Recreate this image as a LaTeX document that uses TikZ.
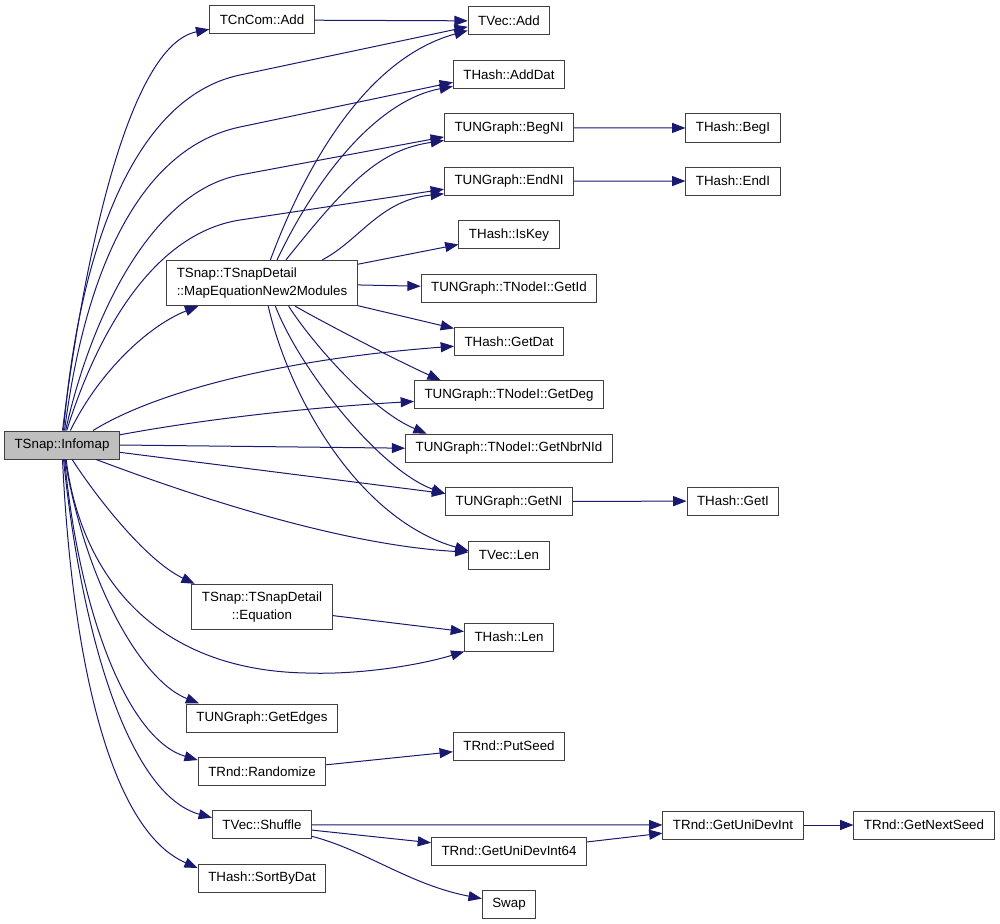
\documentclass[tikz,border=0pt]{standalone}
\usepackage{fontspec}
\setmainfont{Liberation Sans}
\usetikzlibrary{arrows.meta,positioning}
\definecolor{callBlue}{HTML}{191970}
\definecolor{rootGray}{HTML}{BFBFBF}
\definecolor{edgeGray}{HTML}{404040}
\tikzset{
  call/.style={-{Triangle[length=10pt,width=7.5pt]}, line width=0.75pt,
    draw=callBlue},
  func box/.style={draw=edgeGray, fill=white, line width=0.75pt,
    minimum height=21pt, inner xsep=7.5pt, inner ysep=2pt,
    font=\fontsize{10}{13.5}\selectfont},
  root box/.style={func box, fill=rootGray},
  long box/.style={func box, minimum height=34pt}
}
\begin{document}
\begin{tikzpicture}[x=0.75pt, y=-0.75pt, node distance=18.3pt]
  \useasboundingbox (0,0) rectangle (1000,924);
  % caller and its direct callees
  \node[root box] (infomap) at (62,445) {TSnap::Infomap};
  \node[func box] (cncomadd) at (262,20) {TCnCom::Add};
  \node[long box, align=left] (mapeq) at (262,283)
    {TSnap::TSnapDetail\\::MapEquationNew2Modules};
  \node[long box, align=center] (equation) at (262,607)
    {TSnap::TSnapDetail\\::Equation};
  \node[func box] (getedges) at (262,718) {TUNGraph::GetEdges};
  \node[func box, below=of getedges] (randomize) {TRnd::Randomize};
  \node[func box, below=of randomize] (shuffle) {TVec::Shuffle};
  \node[func box, below=of shuffle] (sortbydat) {THash::SortByDat};
  % second column
  \node[func box] (tvecadd) at (509,21) {TVec::Add};
  \node[func box, below=of tvecadd] (adddat) {THash::AddDat};
  \node[func box, below=of adddat] (begni) {TUNGraph::BegNI};
  \node[func box, below=of begni] (endni) {TUNGraph::EndNI};
  \node[func box, below=of endni] (iskey) {THash::IsKey};
  \node[func box, below=of iskey] (getid) {TUNGraph::TNodeI::GetId};
  \node[func box, below=of getid] (getdat) {THash::GetDat};
  \node[func box, below=of getdat] (getdeg) {TUNGraph::TNodeI::GetDeg};
  \node[func box, below=of getdeg] (getnbrnid) {TUNGraph::TNodeI::GetNbrNId};
  \node[func box, below=of getnbrnid] (getni) {TUNGraph::GetNI};
  \node[func box, below=of getni] (tveclen) {TVec::Len};
  \node[func box] (hashlen) at (509,637) {THash::Len};
  \node[func box] (putseed) at (509,746) {TRnd::PutSeed};
  \node[func box] (unidev64) at (509,851) {TRnd::GetUniDevInt64};
  \node[func box, below=of unidev64] (swap) {Swap};
  % third and fourth column
  \node[func box] (begi) at (733,128) {THash::BegI};
  \node[func box] (endi) at (733,181) {THash::EndI};
  \node[func box] (geti) at (733,501) {THash::GetI};
  \node[func box] (unidev) at (733,825) {TRnd::GetUniDevInt};
  \node[func box] (nextseed) at (924,825) {TRnd::GetNextSeed};

  \draw[call] (infomap.88) .. controls (85,250) and (130,45) .. (cncomadd.190);
  \draw[call] (cncomadd) -- (tvecadd);
  \draw[call] (infomap.84) .. controls (78,260) and (130,98) .. (240,75) -- (tvecadd.188);
  \draw[call] (infomap.80) .. controls (85,270) and (140,148) .. (240,127) -- (adddat.188);
  \draw[call] (infomap.76) .. controls (90,320) and (150,192) .. (240,175) -- (begni.188);
  \draw[call] (infomap.72) .. controls (95,340) and (150,234) .. (240,220) -- (endni.187);
  \draw[call] (infomap.60) .. controls (100,370) and (150,325) .. (mapeq.200);
  \draw[call] (infomap.25) .. controls (150,395) and (270,360) .. (getdat.185);
  \draw[call] (infomap.10) .. controls (200,420) and (300,408) .. (getdeg.184);
  \draw[call] (infomap.east) -- (getnbrnid.west);
  \draw[call] (infomap) -- (getni);
  \draw[call] (infomap.-23) .. controls (190,495) and (340,545) .. (tveclen.176);
  \draw[call] (infomap.-55) .. controls (95,495) and (145,560) .. (equation.161);
  \draw[call] (infomap.-74) .. controls (80,570) and (150,670) .. (306,673)
    .. controls (360,675) and (420,665) .. (hashlen.198);
  \draw[call] (infomap.-78) .. controls (85,580) and (140,680) .. (getedges.167);
  \draw[call] (infomap.-80) .. controls (80,620) and (130,740) .. (randomize.170);
  \draw[call] (infomap.-84) .. controls (82,640) and (130,795) .. (shuffle.172);
  \draw[call] (infomap.-88) .. controls (72,660) and (110,830) .. (sortbydat.171);

  \draw[call] (mapeq.70) .. controls (300,180) and (360,60) .. (tvecadd.193);
  \draw[call] (mapeq.57) .. controls (320,170) and (380,100) .. (adddat.192);
  \draw[call] (mapeq.44) .. controls (350,180) and (380,150) .. (begni.191);
  \draw[call] (mapeq.21) .. controls (360,240) and (380,200) .. (endni.191);
  \draw[call] (mapeq) -- (iskey);
  \draw[call] (mapeq) -- (getid);
  \draw[call] (mapeq) -- (getdat);
  \draw[call] (mapeq.-35) .. controls (330,326) and (400,362) .. (getdeg.168);
  \draw[call] (mapeq.-41) .. controls (310,340) and (370,410) .. (getnbrnid.170);
  \draw[call] (mapeq.-60) .. controls (300,370) and (380,470) .. (getni.173);
  \draw[call] (mapeq.-75) .. controls (290,400) and (360,520) .. (tveclen.174);

  \draw[call] (begni) -- (begi);
  \draw[call] (endni) -- (endi);
  \draw[call] (getni) -- (geti);
  \draw[call] (equation) -- (hashlen);
  \draw[call] (randomize) -- (putseed);
  \draw[call] (shuffle) -- (unidev);
  \draw[call] (shuffle) -- (unidev64);
  \draw[call] (shuffle.-13) .. controls (365,850) and (410,885) .. (swap.168);
  \draw[call] (unidev64) -- (unidev);
  \draw[call] (unidev) -- (nextseed);
\end{tikzpicture}
\end{document}
